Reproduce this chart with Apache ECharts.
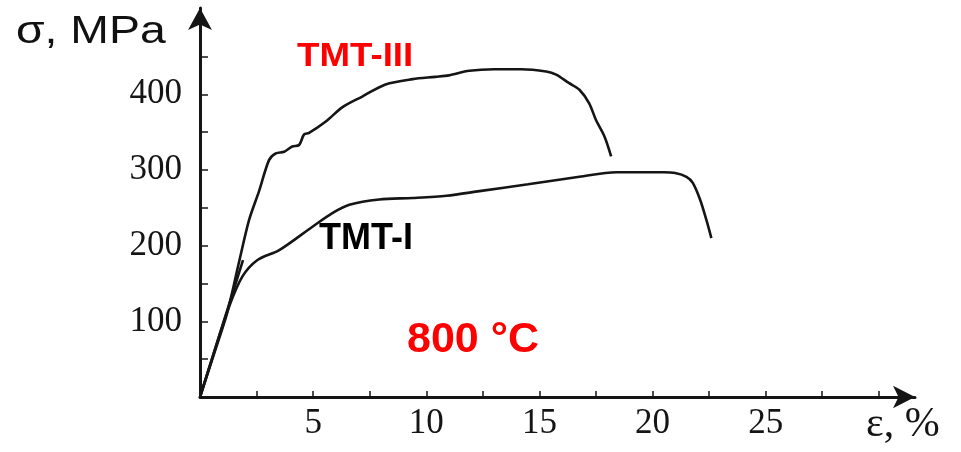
<!DOCTYPE html>
<html>
<head>
<meta charset="utf-8">
<script src="https://cdn.jsdelivr.net/npm/echarts@6/dist/echarts.min.js"></script>
<style>html,body{margin:0;padding:0;background:#fff}#c{width:961px;height:452px}</style>
</head>
<body>
<div id="c"></div>
<script>
// Data
const tmt3Strain = [0, 0.6, 1.2, 1.7, 2.17, 2.61, 3.05, 3.35, 3.72, 4.08, 4.38, 4.6, 4.82, 5.56, 6.3, 7.17, 8.2, 9.4, 10.4, 11.0, 11.9, 13.0, 14.2, 15.3, 15.74, 16.3, 16.77, 17.2, 17.5, 17.88, 18.17];
const tmt3Stress = [0, 55, 111, 175, 234, 272, 313, 322, 324, 331, 333, 347, 349, 364, 383, 397, 413, 420, 423, 425, 431, 433, 433, 430, 426, 415, 406, 388, 366, 344, 318];
const tmt1Strain = [0, 0.6, 1.28, 1.87, 2.54, 3.5, 4.97, 5.85, 6.6, 7.92, 9.4, 10.9, 12.35, 14.5, 16.77, 18.4, 19.4, 20.5, 21.0, 21.5, 21.78, 22.1, 22.38, 22.6];
const tmt1Stress = [0, 57, 119, 159, 181, 194, 225, 243, 254, 261, 263, 266, 272, 281, 291, 297, 297, 297, 296, 291, 283, 261, 234, 210];
const elasticStrain = [0, 1.9];
const elasticStress = [0, 181];
const xTickValues = [2.5, 5, 7.5, 10, 12.5, 15, 17.5, 20, 22.5, 25, 27.5, 30];
const xLabelValues = [5, 10, 15, 20, 25];
const yTickValues = [50, 100, 150, 200, 250, 300, 350, 400, 450];
const yLabelValues = [100, 200, 300, 400];

const pairs = (xs, ys) => xs.map((x, i) => [x, ys[i]]);
const chart = echarts.init(document.getElementById('c'));
const lineStyle = { color: '#151515', width: 2.6 };
chart.setOption({
  animation: false,
  backgroundColor: '#fff',
  grid: { left: 200, top: 8, right: 46, bottom: 55, containLabel: false },
  xAxis: {
    type: 'value', min: 0, max: 31.6,
    splitLine: { show: false },
    axisLine: { onZero: false, lineStyle: { color: '#151515', width: 3 }, symbol: ['none', 'arrow'], symbolSize: [17, 22] },
    axisTick: { inside: true, length: 6, customValues: xTickValues, lineStyle: { color: '#151515', width: 1.5 } },
    axisLabel: { customValues: xLabelValues, margin: 9, color: '#151515', fontFamily: 'Liberation Serif', fontSize: 35 }
  },
  yAxis: {
    type: 'value', min: 0, max: 514,
    splitLine: { show: false },
    axisLine: { onZero: false, lineStyle: { color: '#151515', width: 3 }, symbol: ['none', 'arrow'], symbolSize: [18, 22] },
    axisTick: { inside: true, length: 8, customValues: yTickValues, lineStyle: { color: '#151515', width: 1.5 } },
    axisLabel: { customValues: yLabelValues, margin: 18, color: '#151515', fontFamily: 'Liberation Serif', fontSize: 35, padding: [0, 0, 14, 0] }
  },
  series: [
    { name: 'TMT-III', type: 'line', data: pairs(tmt3Strain, tmt3Stress), showSymbol: false, symbol: 'none', smooth: 0.3, lineStyle },
    { name: 'TMT-I', type: 'line', data: pairs(tmt1Strain, tmt1Stress), showSymbol: false, symbol: 'none', smooth: 0.3, lineStyle },
    { name: 'elastic', type: 'line', data: pairs(elasticStrain, elasticStress), showSymbol: false, symbol: 'none', lineStyle }
  ],
  graphic: [
    { type: 'text', left: 16, top: 14, scaleX: 1.22, style: { text: 'σ, MPa', font: '38px "Liberation Sans"', fill: '#111' } },
    { type: 'text', left: 866, top: 404, style: { text: 'ε, %', font: '42px "Liberation Serif"', fill: '#151515' } },
    { type: 'text', left: 297, top: 40, scaleX: 1.08, style: { text: 'TMT-III', font: 'bold 34px "Liberation Sans"', fill: '#ff0000' } },
    { type: 'text', left: 319, top: 221, style: { text: 'TMT-I', font: 'bold 36px "Liberation Sans"', fill: '#000' } },
    { type: 'text', left: 407, top: 319, style: { text: '800 °C', font: 'bold 43px "Liberation Sans"', fill: '#ff0000' } }
  ]
});
</script>
</body>
</html>
